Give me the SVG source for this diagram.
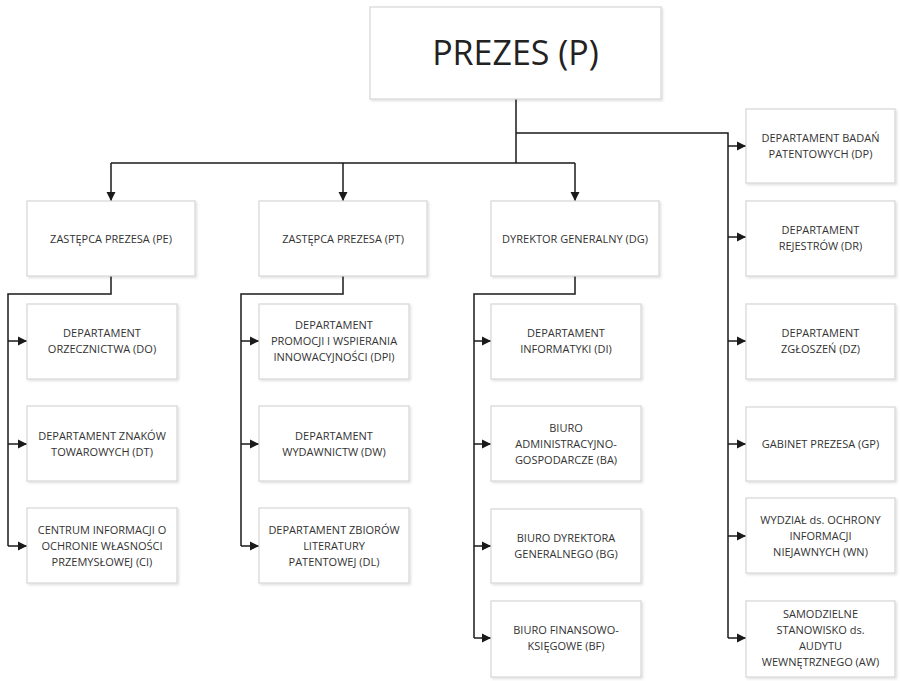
<svg xmlns="http://www.w3.org/2000/svg" width="900" height="681" viewBox="0 0 900 681">
<defs>
<marker id="ah" markerUnits="userSpaceOnUse" markerWidth="10" markerHeight="10" refX="9" refY="5" orient="auto">
<path d="M0,0.5 L9,5 L0,9.5 Z" fill="#1a1a1a"/>
</marker>
<filter id="sh" x="-5%" y="-5%" width="112%" height="115%">
<feDropShadow dx="1.5" dy="1.5" stdDeviation="1" flood-color="#000" flood-opacity="0.12"/>
</filter>
</defs>
<style>
.box{fill:#fff;stroke:#d6d6d6;stroke-width:1.2;filter:url(#sh)}
.t{font-family:"Open Sans","Noto Sans",sans-serif;font-size:11px;fill:#333;text-anchor:middle}
.big{font-size:34px;fill:#222}
.c{fill:none;stroke:#1a1a1a;stroke-width:1.5}
.a{marker-end:url(#ah)}
</style>
<rect width="900" height="681" fill="#fff"/>
<g id="connectors">
<path class="c" d="M516,99 V163 M111,163 H575 M516,133 H728 V638"/>
<path class="c a" d="M111,163 V201"/>
<path class="c a" d="M343,163 V201"/>
<path class="c a" d="M575,163 V201"/>
<path class="c a" d="M728,146 H746"/>
<path class="c a" d="M728,237 H746"/>
<path class="c a" d="M728,341 H746"/>
<path class="c a" d="M728,444 H746"/>
<path class="c a" d="M728,536 H746"/>
<path class="c a" d="M728,638 H746"/>
<path class="c" d="M111,276 V294 H8 V546"/>
<path class="c a" d="M8,341 H27"/>
<path class="c a" d="M8,444 H27"/>
<path class="c a" d="M8,546 H27"/>
<path class="c" d="M343,276 V294 H241 V546"/>
<path class="c a" d="M241,341 H259"/>
<path class="c a" d="M241,444 H259"/>
<path class="c a" d="M241,546 H259"/>
<path class="c" d="M575,276 V294 H474 V638"/>
<path class="c a" d="M474,341 H491"/>
<path class="c a" d="M474,444 H491"/>
<path class="c a" d="M474,546 H491"/>
<path class="c a" d="M474,638 H491"/>
</g>
<g id="P"><rect class="box" x="370" y="7" width="291" height="92"/><text class="t big" x="515.5" y="65">PREZES (P)</text></g>
<g id="PE"><rect class="box" x="27" y="201" width="168" height="75"/><text class="t" x="111" y="242.5">ZASTĘPCA PREZESA (PE)</text></g>
<g id="PT"><rect class="box" x="259" y="201" width="168" height="75"/><text class="t" x="343" y="242.5">ZASTĘPCA PREZESA (PT)</text></g>
<g id="DG"><rect class="box" x="491" y="201" width="168" height="75"/><text class="t" x="575" y="242.5">DYREKTOR GENERALNY (DG)</text></g>
<g id="DO"><rect class="box" x="27" y="304" width="150" height="75"/><text class="t" x="102" y="337">DEPARTAMENT</text><text class="t" x="102" y="353">ORZECZNICTWA (DO)</text></g>
<g id="DT"><rect class="box" x="27" y="406" width="150" height="75"/><text class="t" x="102" y="439.5">DEPARTAMENT ZNAKÓW</text><text class="t" x="102" y="455.5">TOWAROWYCH (DT)</text></g>
<g id="CI"><rect class="box" x="27" y="508" width="150" height="75"/><text class="t" x="102" y="533.5">CENTRUM INFORMACJI O</text><text class="t" x="102" y="549.5">OCHRONIE WŁASNOŚCI</text><text class="t" x="102" y="565.5">PRZEMYSŁOWEJ (CI)</text></g>
<g id="DPI"><rect class="box" x="259" y="304" width="150" height="75"/><text class="t" x="334" y="329">DEPARTAMENT</text><text class="t" x="334" y="345">PROMOCJI I WSPIERANIA</text><text class="t" x="334" y="361">INNOWACYJNOŚCI (DPI)</text></g>
<g id="DW"><rect class="box" x="259" y="406" width="150" height="75"/><text class="t" x="334" y="439.5">DEPARTAMENT</text><text class="t" x="334" y="455.5">WYDAWNICTW (DW)</text></g>
<g id="DL"><rect class="box" x="259" y="508" width="150" height="75"/><text class="t" x="334" y="533.5">DEPARTAMENT ZBIORÓW</text><text class="t" x="334" y="549.5">LITERATURY</text><text class="t" x="334" y="565.5">PATENTOWEJ (DL)</text></g>
<g id="DI"><rect class="box" x="491" y="304" width="150" height="75"/><text class="t" x="566" y="337">DEPARTAMENT</text><text class="t" x="566" y="353">INFORMATYKI (DI)</text></g>
<g id="BA"><rect class="box" x="491" y="406" width="150" height="75"/><text class="t" x="566" y="431.5">BIURO</text><text class="t" x="566" y="447.5">ADMINISTRACYJNO-</text><text class="t" x="566" y="463.5">GOSPODARCZE (BA)</text></g>
<g id="BG"><rect class="box" x="491" y="509" width="150" height="74"/><text class="t" x="566" y="542">BIURO DYREKTORA</text><text class="t" x="566" y="558">GENERALNEGO (BG)</text></g>
<g id="BF"><rect class="box" x="491" y="601" width="150" height="76"/><text class="t" x="566" y="634">BIURO FINANSOWO-</text><text class="t" x="566" y="650">KSIĘGOWE (BF)</text></g>
<g id="DP"><rect class="box" x="746" y="109" width="149" height="74"/><text class="t" x="820.5" y="142">DEPARTAMENT BADAŃ</text><text class="t" x="820.5" y="158">PATENTOWYCH (DP)</text></g>
<g id="DR"><rect class="box" x="746" y="201" width="149" height="75"/><text class="t" x="820.5" y="234">DEPARTAMENT</text><text class="t" x="820.5" y="250">REJESTRÓW (DR)</text></g>
<g id="DZ"><rect class="box" x="746" y="304" width="149" height="75"/><text class="t" x="820.5" y="337">DEPARTAMENT</text><text class="t" x="820.5" y="353">ZGŁOSZEŃ (DZ)</text></g>
<g id="GP"><rect class="box" x="746" y="407" width="149" height="74"/><text class="t" x="820.5" y="448">GABINET PREZESA (GP)</text></g>
<g id="WN"><rect class="box" x="746" y="498" width="149" height="75"/><text class="t" x="820.5" y="523.5">WYDZIAŁ ds. OCHRONY</text><text class="t" x="820.5" y="539.5">INFORMACJI</text><text class="t" x="820.5" y="555.5">NIEJAWNYCH (WN)</text></g>
<g id="AW"><rect class="box" x="746" y="601" width="149" height="76"/><text class="t" x="820.5" y="618">SAMODZIELNE</text><text class="t" x="820.5" y="634">STANOWISKO ds.</text><text class="t" x="820.5" y="650">AUDYTU</text><text class="t" x="820.5" y="666">WEWNĘTRZNEGO (AW)</text></g>
</svg>
